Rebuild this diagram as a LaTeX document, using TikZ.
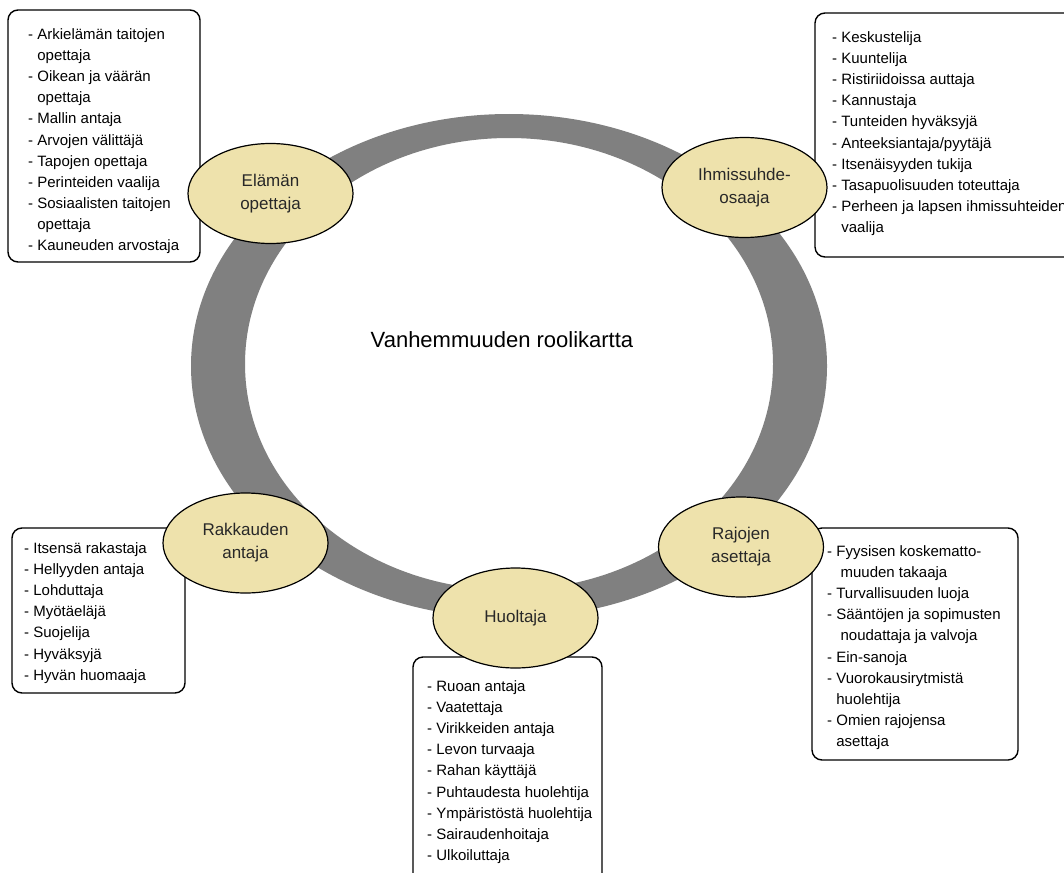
\documentclass[tikz,border=0pt]{standalone}
\usepackage{fontspec}
\setmainfont{Liberation Sans}
\usetikzlibrary{shapes.geometric}
\definecolor{ringgray}{RGB}{128,128,128}
\definecolor{roletan}{RGB}{238,226,172}
\definecolor{roletext}{RGB}{40,40,40}
\begin{document}
\begin{tikzpicture}[x=1pt,y=-1pt,
  rolebox/.style={ellipse, draw=black, line width=1.2pt, fill=roletan,
    minimum width=165pt, minimum height=100pt, inner sep=0pt, align=center,
    font={\fontsize{17}{23}\selectfont}, text=roletext},
  listbox/.style={draw=black, line width=1.4pt, rounded corners=10pt, fill=white, inner sep=0pt},
  listtext/.style={anchor=north west, inner sep=0pt, align=left,
    font={\fontsize{15}{21.1}\selectfont}, text=black}]
\useasboundingbox (0,0) rectangle (1064,872);
\fill[white] (0,0) rectangle (1064,872);

% ring
\fill[ringgray, even odd rule] (509,366) ellipse [x radius=318pt, y radius=252pt]
  (509,364) ellipse [x radius=264pt, y radius=226pt];

% title
\node[font={\fontsize{22}{26}\selectfont}, text=black] (title) at (502,340) {Vanhemmuuden roolikartta};

% list boxes
\node[listbox, minimum width=192pt, minimum height=252pt] (b1) at (104,136) {};
\node[listbox, minimum width=275pt, minimum height=244pt] (b2) at (952.5,135) {};
\node[listbox, minimum width=173pt, minimum height=165pt] (b3) at (98.5,610.5) {};
\node[listbox, minimum width=189pt, minimum height=243pt] (b4) at (507.5,778.5) {};
\node[listbox, minimum width=206pt, minimum height=232pt] (b5) at (915,644) {};

% list texts
\node[listtext] (t1) at (28,24.6) {%
\strut- Arkielämän taitojen\\
\strut\hphantom{- }opettaja\\
\strut- Oikean ja väärän\\
\strut\hphantom{- }opettaja\\
\strut- Mallin antaja\\
\strut- Arvojen välittäjä\\
\strut- Tapojen opettaja\\
\strut- Perinteiden vaalija\\
\strut- Sosiaalisten taitojen\\
\strut\hphantom{- }opettaja\\
\strut- Kauneuden arvostaja};

\node[listtext] (t2) at (832,27.6) {%
\strut- Keskustelija\\
\strut- Kuuntelija\\
\strut- Ristiriidoissa auttaja\\
\strut- Kannustaja\\
\strut- Tunteiden hyväksyjä\\
\strut- Anteeksiantaja/pyytäjä\\
\strut- Itsenäisyyden tukija\\
\strut- Tasapuolisuuden toteuttaja\\
\strut- Perheen ja lapsen ihmissuhteiden\\
\strut\hphantom{- }vaalija};

\node[listtext] (t3) at (24,538.6) {%
\strut- Itsensä rakastaja\\
\strut- Hellyyden antaja\\
\strut- Lohduttaja\\
\strut- Myötäeläjä\\
\strut- Suojelija\\
\strut- Hyväksyjä\\
\strut- Hyvän huomaaja};

\node[listtext] (t4) at (427,676.6) {%
\strut- Ruoan antaja\\
\strut- Vaatettaja\\
\strut- Virikkeiden antaja\\
\strut- Levon turvaaja\\
\strut- Rahan käyttäjä\\
\strut- Puhtaudesta huolehtija\\
\strut- Ympäristöstä huolehtija\\
\strut- Sairaudenhoitaja\\
\strut- Ulkoiluttaja};

\node[listtext] (t5) at (827,541.6) {%
\strut- Fyysisen koskematto-\\
\strut\hspace*{13.4pt}muuden takaaja\\
\strut- Turvallisuuden luoja\\
\strut- Sääntöjen ja sopimusten\\
\strut\hspace*{13.4pt}noudattaja ja valvoja\\
\strut- Ein-sanoja\\
\strut- Vuorokausirytmistä\\
\strut\hphantom{- }huolehtija\\
\strut- Omien rajojensa\\
\strut\hphantom{- }asettaja};

% role ellipses
\node[rolebox] (elama) at (270.5,193.5) {Elämän\\opettaja};
\node[rolebox] (ihmis) at (744.5,187.5) {Ihmissuhde-\\osaaja};
\node[rolebox] (rakkaus) at (245.5,543) {Rakkauden\\antaja};
\node[rolebox] (rajat) at (741,547) {Rajojen\\asettaja};
\node[rolebox] (huolto) at (515.5,618) {Huoltaja};
\end{tikzpicture}
\end{document}
